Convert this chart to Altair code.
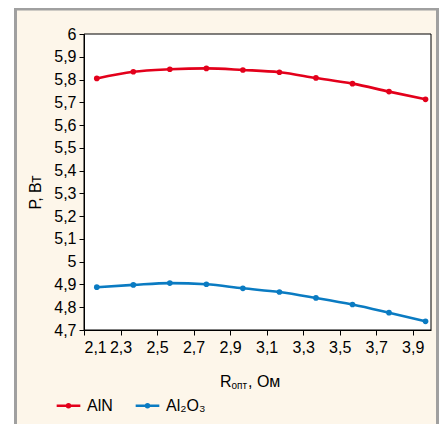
import altair as alt
import pandas as pd

# ---- data ----
r_values = [2.17, 2.37, 2.57, 2.77, 2.97, 3.17, 3.37, 3.57, 3.77, 3.97]
p_aln = [5.805, 5.834, 5.845, 5.849, 5.842, 5.832, 5.807, 5.782, 5.747, 5.713]
p_al2o3 = [4.888, 4.898, 4.906, 4.901, 4.883, 4.867, 4.841, 4.812, 4.776, 4.738]
series_names = ["AlN", "Al₂O₃"]
series_colors = ["#E3001B", "#0A7BC2"]
x_ticks = [2.1, 2.3, 2.5, 2.7, 2.9, 3.1, 3.3, 3.5, 3.7, 3.9]
y_ticks = [4.7, 4.8, 4.9, 5.0, 5.1, 5.2, 5.3, 5.4, 5.5, 5.6, 5.7, 5.8, 5.9, 6.0]
y_title = "Р, Вт"
x_title_main = "R"
x_title_sub = "опт"
x_title_tail = ", Ом"

FONT = "'Liberation Sans', Arial, sans-serif"
W, H = 347, 296

rows = []
for name, vals in zip(series_names, [p_aln, p_al2o3]):
    for r, p in zip(r_values, vals):
        rows.append({"R": r, "P": p, "series": name})
df = pd.DataFrame(rows)

one = pd.DataFrame({"a": [0]})

label_expr = "replace(format(datum.value, '.2~f'), '.', ',')"

frame = alt.Chart(one).mark_rect(
    fill="#FDF6EA", stroke="#A0A0A0", strokeWidth=3
).encode(
    x=alt.value(-68.5), x2=alt.value(353.5), y=alt.value(-25), y2=alt.value(420)
)

plot_bg = alt.Chart(one).mark_rect(
    fill="white", stroke="black", strokeWidth=1
).encode(
    x=alt.value(0), x2=alt.value(W), y=alt.value(0), y2=alt.value(H)
)

color = alt.Color(
    "series:N",
    scale=alt.Scale(domain=series_names, range=series_colors),
    sort=series_names,
    legend=alt.Legend(
        title=None,
        orient="none",
        legendX=-29,
        legendY=358,
        direction="horizontal",
        symbolType="M-1,0H1M-0.12,0a0.12,0.12 0 1,0 0.24,0a0.12,0.12 0 1,0 -0.24,0",
        symbolSize=560,
        symbolStrokeWidth=2.6,
        labelFont=FONT,
        labelFontSize=16,
        labelColor="black",
        labelOffset=5,
        columnPadding=17,
    ),
)

lines = alt.Chart(df).mark_line(
    interpolate="monotone", strokeWidth=2.6,
    point=alt.OverlayMarkDef(filled=True, size=32, opacity=1),
).encode(
    x=alt.X(
        "R:Q",
        scale=alt.Scale(domain=[2.1, 4.0], nice=False, zero=False),
        axis=alt.Axis(
            values=x_ticks, labelExpr=label_expr, title=None, grid=False,
            domainColor="black", tickColor="black", tickSize=5, zindex=1,
            labelFont=FONT, labelFontSize=16, labelColor="black", labelPadding=4,
        ),
    ),
    y=alt.Y(
        "P:Q",
        scale=alt.Scale(domain=[4.7, 6.0], nice=False, zero=False),
        axis=alt.Axis(
            values=y_ticks, labelExpr=label_expr, title=y_title, grid=False,
            domainColor="black", tickColor="black", tickSize=5, zindex=1,
            labelFont=FONT, labelFontSize=16, labelColor="black", labelPadding=3,
            titleFont=FONT, titleFontSize=16, titleFontWeight="normal",
            titleColor="black", titlePadding=10, titleY=158,
        ),
    ),
    color=color,
)

t_main = alt.Chart(one).mark_text(
    text=x_title_main, font=FONT, fontSize=16, color="black",
    align="left", baseline="alphabetic",
).encode(x=alt.value(136), y=alt.value(353))
t_sub = alt.Chart(one).mark_text(
    text=x_title_sub, font=FONT, fontSize=10, color="black",
    align="left", baseline="alphabetic",
).encode(x=alt.value(147.5), y=alt.value(355))
t_tail = alt.Chart(one).mark_text(
    text=x_title_tail, font=FONT, fontSize=16, color="black",
    align="left", baseline="alphabetic",
).encode(x=alt.value(164), y=alt.value(353))

chart = alt.layer(frame, plot_bg, lines, t_main, t_sub, t_tail).properties(
    width=W, height=H,
    autosize=alt.AutoSizeParams(type="none"),
    padding={"left": 76, "top": 26, "right": 8, "bottom": 94},
).configure_view(stroke=None).configure(background="white")

chart.save("out.html", embed_options={"renderer": "svg", "actions": False})
